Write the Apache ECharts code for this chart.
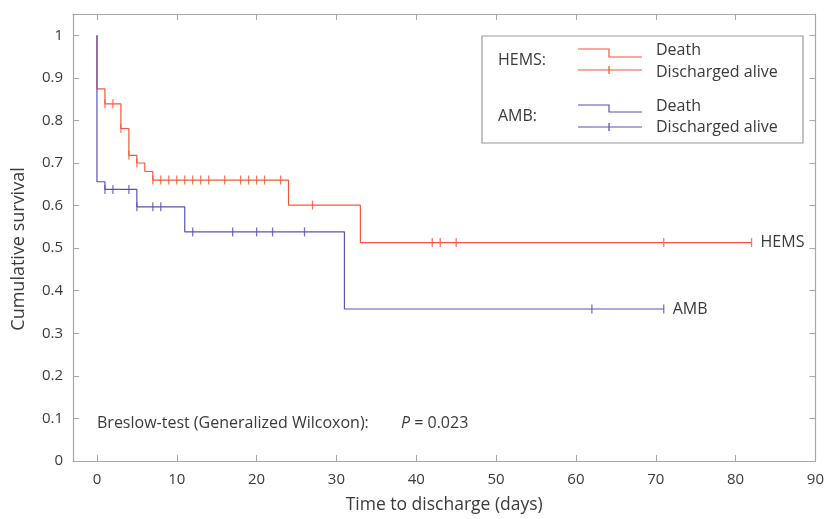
<!DOCTYPE html>
<html><head><meta charset="utf-8">
<script src="https://cdn.jsdelivr.net/npm/echarts@6/dist/echarts.min.js"></script>
<style>html,body{margin:0;padding:0;background:#fff}#c{width:827px;height:519px}</style>
</head><body><div id="c"></div>
<script>
// Kaplan-Meier step data (time in days, cumulative survival after events at that time)
const hemsTimes = [0, 0, 1, 3, 4, 5, 6, 7, 24, 33, 82];
const hemsSurv  = [1, 0.874, 0.839, 0.781, 0.718, 0.700, 0.680, 0.660, 0.601, 0.513, 0.513];
const hemsCensor = [1, 2, 3, 4, 5, 7, 8, 9, 10, 11, 12, 13, 14, 16, 18, 19, 20, 21, 23, 27, 42, 43, 45, 71, 82];

const ambTimes = [0, 0, 1, 5, 11, 31, 71];
const ambSurv  = [1, 0.656, 0.638, 0.597, 0.538, 0.357, 0.357];
const ambCensor = [1, 2, 4, 5, 7, 8, 12, 17, 20, 22, 26, 62, 71];

const xTicks = [0, 10, 20, 30, 40, 50, 60, 70, 80, 90];
const yTicks = [0, 0.1, 0.2, 0.3, 0.4, 0.5, 0.6, 0.7, 0.8, 0.9, 1];

const RED = '#f2593a';
const BLUE = '#5853b3';
const AXIS = '#a8a8a8';
const TXT = '#3a3a3a';
const FONT = "'Open Sans', sans-serif";

function survAt(times, surv, t) {
  let s = surv[0];
  for (let i = 0; i < times.length; i++) if (times[i] <= t) s = surv[i];
  return s;
}
const zip = (a, b) => a.map((v, i) => [v, b[i]]);
const censorPts = (c, times, surv) => c.map(t => [t, survAt(times, surv, t)]);

const chart = echarts.init(document.getElementById('c'), null, {renderer: 'canvas'});

const baseX = {
  type: 'value', min: -3, max: 90,
  axisLine: {show: true, onZero: false, lineStyle: {color: AXIS, width: 1.2}},
  splitLine: {show: false}
};
const baseY = {
  type: 'value', min: 0, max: 1.05,
  axisLine: {show: true, onZero: false, lineStyle: {color: AXIS, width: 1.2}},
  splitLine: {show: false}
};
const f = s => s + "px 'Open Sans', sans-serif";

const option = {
  animation: false,
  backgroundColor: '#fff',
  textStyle: {fontFamily: FONT},
  grid: {left: 73, right: 9, top: 14, bottom: 55, containLabel: false},
  xAxis: [
    Object.assign({}, baseX, {
      position: 'bottom',
      axisTick: {show: true, inside: true, length: 6, customValues: xTicks, lineStyle: {color: AXIS}},
      axisLabel: {show: true, customValues: xTicks, color: TXT, fontSize: 15, margin: 11, fontFamily: FONT},
      name: 'Time to discharge (days)', nameLocation: 'middle', nameGap: 35,
      nameTextStyle: {color: TXT, fontSize: 17.5, fontFamily: FONT}
    }),
    Object.assign({}, baseX, {
      position: 'top',
      axisTick: {show: true, inside: true, length: 6, customValues: xTicks, lineStyle: {color: AXIS}},
      axisLabel: {show: false}
    })
  ],
  yAxis: [
    Object.assign({}, baseY, {
      position: 'left',
      axisTick: {show: true, inside: true, length: 6, customValues: yTicks, lineStyle: {color: AXIS}},
      axisLabel: {show: true, customValues: yTicks, color: TXT, fontSize: 15, margin: 10, fontFamily: FONT,
        formatter: v => String(Math.round(v * 10) / 10)}
    }),
    Object.assign({}, baseY, {
      position: 'right',
      axisTick: {show: true, inside: true, length: 6, customValues: yTicks, lineStyle: {color: AXIS}},
      axisLabel: {show: false}
    })
  ],
  series: [
    {
      name: 'HEMS', type: 'line', step: 'end', xAxisIndex: 0, yAxisIndex: 0,
      data: zip(hemsTimes, hemsSurv), showSymbol: false, symbol: 'none',
      lineStyle: {color: RED, width: 1.2}, itemStyle: {color: RED},
      endLabel: {show: true, formatter: 'HEMS', color: TXT, fontSize: 16, fontFamily: FONT, distance: 9},
      z: 2
    },
    {
      name: 'HEMS censored', type: 'scatter', xAxisIndex: 0, yAxisIndex: 0,
      data: censorPts(hemsCensor, hemsTimes, hemsSurv),
      symbol: 'rect', symbolSize: [1.3, 9], itemStyle: {color: RED}, z: 3
    },
    {
      name: 'AMB', type: 'line', step: 'end', xAxisIndex: 0, yAxisIndex: 0,
      data: zip(ambTimes, ambSurv), showSymbol: false, symbol: 'none',
      lineStyle: {color: BLUE, width: 1.2}, itemStyle: {color: BLUE},
      endLabel: {show: true, formatter: 'AMB', color: TXT, fontSize: 16, fontFamily: FONT, distance: 9},
      z: 4
    },
    {
      name: 'AMB censored', type: 'scatter', xAxisIndex: 0, yAxisIndex: 0,
      data: censorPts(ambCensor, ambTimes, ambSurv),
      symbol: 'rect', symbolSize: [1.3, 9], itemStyle: {color: BLUE}, z: 5
    }
  ],
  graphic: [
    {type: 'text', x: 19, y: 249, rotation: Math.PI / 2,
      style: {text: 'Cumulative survival', fill: TXT, font: f(18), textAlign: 'center', textVerticalAlign: 'middle'}},
    {type: 'text', x: 97, y: 423,
      style: {text: 'Breslow-test (Generalized Wilcoxon):', fill: TXT, font: f(16), textVerticalAlign: 'middle'}},
    {type: 'text', x: 401, y: 423,
      style: {text: '{i|P} = 0.023', fill: TXT, font: f(16), textVerticalAlign: 'middle',
        rich: {i: {fontStyle: 'italic', fontSize: 16, fontFamily: FONT, fill: TXT}}}},
    // legend box
    {type: 'rect', shape: {x: 482, y: 36, width: 321, height: 107},
      style: {fill: '#fff', stroke: '#9a9a9a', lineWidth: 1.2}, z: 10},
    {type: 'text', x: 498, y: 60, z: 11,
      style: {text: 'HEMS:', fill: TXT, font: f(16), textVerticalAlign: 'middle'}},
    {type: 'text', x: 656, y: 50, z: 11,
      style: {text: 'Death', fill: TXT, font: f(16), textVerticalAlign: 'middle'}},
    {type: 'text', x: 656, y: 72, z: 11,
      style: {text: 'Discharged alive', fill: TXT, font: f(16), textVerticalAlign: 'middle'}},
    {type: 'polyline', z: 11, shape: {points: [[578, 49], [609, 49], [609, 57], [642, 57]]},
      style: {stroke: RED, lineWidth: 1.2, fill: null}},
    {type: 'polyline', z: 11, shape: {points: [[578, 70], [642, 70]]},
      style: {stroke: RED, lineWidth: 1.2, fill: null}},
    {type: 'polyline', z: 11, shape: {points: [[609, 66], [609, 74]]},
      style: {stroke: RED, lineWidth: 1.3, fill: null}},
    {type: 'text', x: 498, y: 116, z: 11,
      style: {text: 'AMB:', fill: TXT, font: f(16), textVerticalAlign: 'middle'}},
    {type: 'text', x: 656, y: 106, z: 11,
      style: {text: 'Death', fill: TXT, font: f(16), textVerticalAlign: 'middle'}},
    {type: 'text', x: 656, y: 127, z: 11,
      style: {text: 'Discharged alive', fill: TXT, font: f(16), textVerticalAlign: 'middle'}},
    {type: 'polyline', z: 11, shape: {points: [[578, 105], [609, 105], [609, 112], [642, 112]]},
      style: {stroke: BLUE, lineWidth: 1.2, fill: null}},
    {type: 'polyline', z: 11, shape: {points: [[578, 127], [642, 127]]},
      style: {stroke: BLUE, lineWidth: 1.2, fill: null}},
    {type: 'polyline', z: 11, shape: {points: [[609, 123], [609, 131]]},
      style: {stroke: BLUE, lineWidth: 1.3, fill: null}}
  ]
};
chart.setOption(option);
</script>
</body></html>
